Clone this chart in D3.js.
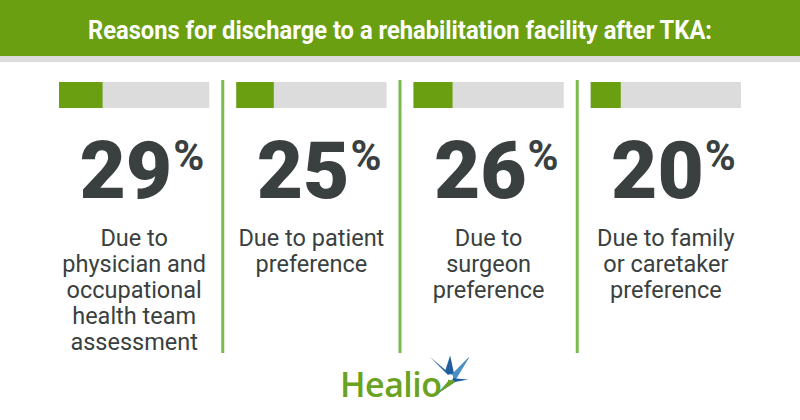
<!DOCTYPE html>
<html>
<head>
<meta charset="utf-8">
<script src="https://cdn.jsdelivr.net/npm/d3@7"></script>
<style>
	body { margin: 0; background: #fff; }
	svg { display: block; }
</style>
</head>
<body>
<svg id="chart" width="800" height="420"></svg>
<script>

var title = "Reasons for discharge to a rehabilitation facility after TKA:";

var reasons = ["physician", "patient", "surgeon", "family"];
var percents = [29, 25, 26, 20];
var labelLines = [
	["Due to", "physician and", "occupational", "health team", "assessment"],
	["Due to patient", "preference"],
	["Due to", "surgeon", "preference"],
	["Due to family", "or caretaker", "preference"]
];

var green = "#6a9f12";
var divider = "#7bbb4e";
var grey = "#dcdcdc";
var ink = "#3a3f40";

var svg = d3.select("#chart");

// header band

svg.append("rect")
	.attr("x", 0).attr("y", 0)
	.attr("width", 800).attr("height", 56)
	.attr("fill", green);

svg.append("rect")
	.attr("x", 0).attr("y", 56)
	.attr("width", 800).attr("height", 6)
	.attr("fill", grey);

svg.append("text")
	.attr("x", 400)
	.attr("y", 39)
	.attr("fill", "#fff")
	.style("font-family", "Roboto")
	.style("font-weight", "bold")
	.style("font-size", "25px")
	.attr("text-anchor", "middle")
	.attr("textLength", 624)
	.attr("lengthAdjust", "spacingAndGlyphs")
	.text(title);

// columns

var x = d3.scaleBand()
	.domain(reasons)
	.range([59, 741])
	.paddingInner(0.152)
	.paddingOuter(0);

var w = d3.scaleLinear()
	.domain([0, 100])
	.range([0, x.bandwidth()]);

var gap = x.step() * x.paddingInner() / 2;

svg.selectAll(".divider")
	.data(reasons.slice(1))
	.enter().append("rect")
	.attr("class", "divider")
	.attr("x", function (d) { return x(d) - gap - 1.5; })
	.attr("y", 80)
	.attr("width", 3)
	.attr("height", 273)
	.attr("fill", divider);

var cols = svg.selectAll(".col")
	.data(reasons)
	.enter().append("g")
	.attr("class", "col")
	.attr("transform", function (d) { return "translate(" + x(d) + ",0)"; });

cols.append("rect")
	.attr("x", 0).attr("y", 82)
	.attr("width", x.bandwidth())
	.attr("height", 26)
	.attr("fill", grey);

cols.append("rect")
	.attr("x", 0).attr("y", 82)
	.attr("width", function (d, i) { return w(percents[i]); })
	.attr("height", 26)
	.attr("fill", green);

var mid = x.bandwidth() / 2;

cols.append("text")
	.attr("x", mid + 38)
	.attr("y", 198)
	.attr("text-anchor", "end")
	.attr("fill", ink)
	.style("font-family", "Roboto")
	.style("font-weight", "900")
	.style("font-size", "80px")
	.text(function (d, i) { return percents[i]; });

cols.append("text")
	.attr("x", mid + 39)
	.attr("y", 170)
	.attr("fill", ink)
	.style("font-family", "Roboto")
	.style("font-weight", "bold")
	.style("font-size", "42px")
	.text("%");

cols.each(function (d, i) {
	d3.select(this).selectAll(".lbl")
	.data(labelLines[i])
	.enter().append("text")
	.attr("class", "lbl")
	.attr("x", mid)
	.attr("y", function (t, j) { return 246 + j * 26; })
	.attr("text-anchor", "middle")
	.attr("fill", ink)
	.style("font-family", "Roboto")
	.style("font-size", "23.5px")
	.text(function (t) { return t; });
});

// logo

var logo = svg.append("g");

logo.append("text")
	.attr("x", 340)
	.attr("y", 397)
	.attr("fill", "#6aa221")
	.style("font-family", "Open Sans")
	.style("font-weight", "600")
	.style("font-size", "34px")
	.style("letter-spacing", "-0.5px")
	.text("Healio");

var star = logo.append("g").attr("transform", "translate(449,376) scale(1.2)");

star.append("path")
	.attr("d", "M0 0 L-16 -16 L-3 -5 L1 -17 L4 -3 L17 -16 L6 2 L16 3 L5 5 L-10 15 L-1 5 Z")
	.attr("fill", "#1f5f9e");

star.append("path")
	.attr("d", "M0 0 L4 -3 L17 -16 L6 2 Z")
	.attr("fill", "#4a90c8");

star.append("path")
	.attr("d", "M0 0 L5 5 L-10 15 L-1 5 Z")
	.attr("fill", "#6aa221");

star.append("circle")
	.attr("cx", 1).attr("cy", 1).attr("r", 2.5)
	.attr("fill", "#fff");

</script>
</body>
</html>
